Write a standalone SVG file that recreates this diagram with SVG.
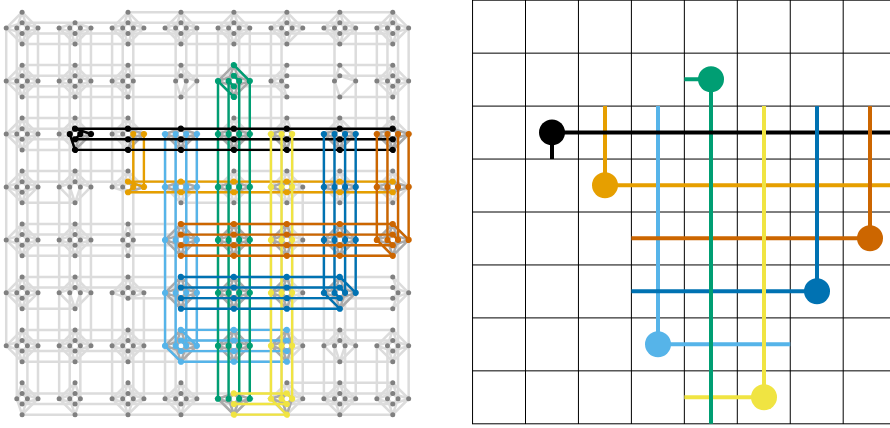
<svg xmlns="http://www.w3.org/2000/svg" width="890" height="428" viewBox="0 0 890 428">
<style>
.l{stroke:#dcdcdc;stroke-width:2.5;fill:none}
.d{stroke:#aaa;stroke-width:2.5;fill:none}
.c path{fill:none;stroke-width:2.4}
.n{fill:#808080}
.k{fill:#000;stroke:#000;stroke-width:1.2}
.o{fill:#E69F00;stroke:#E69F00;stroke-width:1.2}
.s{fill:#56B4E9;stroke:#56B4E9;stroke-width:1.2}
.g{fill:#009E73;stroke:#009E73;stroke-width:1.2}
.y{fill:#F0E442;stroke:#F0E442;stroke-width:1.2}
.b{fill:#0072B2;stroke:#0072B2;stroke-width:1.2}
.v{fill:#CC6600;stroke:#CC6600;stroke-width:1.2}
.pk{stroke:#000}.po{stroke:#E69F00}.ps{stroke:#56B4E9}.pg{stroke:#009E73}.py{stroke:#F0E442}.pb{stroke:#0072B2}.pv{stroke:#CC6600}
.r path{fill:none;stroke-width:4}
.grid{stroke:#000;stroke-width:1;fill:none}
</style>
<defs>
<circle id="na" cx="-15.9" r="2.5"/><circle id="nb" cx="-5.3" r="2.5"/><circle id="nc" cx="5.3" r="2.5"/><circle id="nd" cx="15.9" r="2.5"/>
<circle id="nA" cy="-15.9" r="2.5"/><circle id="nB" cy="-5.3" r="2.5"/><circle id="nC" cy="5.3" r="2.5"/><circle id="nD" cy="15.9" r="2.5"/>
<g id="V"><use href="#na"/><use href="#nb"/><use href="#nc"/><use href="#nd"/></g>
<g id="H"><use href="#nA"/><use href="#nB"/><use href="#nC"/><use href="#nD"/></g>
<g id="N"><use href="#V"/><use href="#H"/></g>
<g id="vabc"><use href="#na"/><use href="#nb"/><use href="#nc"/></g>
<g id="vbcd"><use href="#nb"/><use href="#nc"/><use href="#nd"/></g>
<g id="hBCD"><use href="#nB"/><use href="#nC"/><use href="#nD"/></g>
<g id="hABD"><use href="#nA"/><use href="#nB"/><use href="#nD"/></g>
<g id="hABC"><use href="#nA"/><use href="#nB"/><use href="#nC"/></g>
<path id="e" d="M0-15.9-15.9 0 0-5.3M0 5.3-15.9 0 0 15.9M0-15.9-5.3 0 0-5.3M0 5.3-5.3 0 0 15.9M0-15.9 5.3 0 0-5.3M0 5.3 5.3 0 0 15.9M0-15.9 15.9 0 0-5.3M0 5.3 15.9 0 0 15.9"/>
<path id="eabc" d="M0-15.9-15.9 0 0-5.3M0 5.3-15.9 0 0 15.9M0-15.9-5.3 0 0-5.3M0 5.3-5.3 0 0 15.9M0-15.9 5.3 0 0-5.3M0 5.3 5.3 0 0 15.9"/>
<path id="ebcd" d="M0-15.9-5.3 0 0-5.3M0 5.3-5.3 0 0 15.9M0-15.9 5.3 0 0-5.3M0 5.3 5.3 0 0 15.9M0-15.9 15.9 0 0-5.3M0 5.3 15.9 0 0 15.9"/>
<path id="eab" d="M0-15.9-15.9 0 0-5.3M0 5.3-15.9 0 0 15.9M0-15.9-5.3 0 0-5.3M0 5.3-5.3 0 0 15.9"/>
<path id="ecd" d="M0-15.9 5.3 0 0-5.3M0 5.3 5.3 0 0 15.9M0-15.9 15.9 0 0-5.3M0 5.3 15.9 0 0 15.9"/>
<path id="ebc" d="M0-15.9-5.3 0 0-5.3M0 5.3-5.3 0 0 15.9M0-15.9 5.3 0 0-5.3M0 5.3 5.3 0 0 15.9"/>
<path id="eBCD" d="M0-5.3-15.9 0 0 5.3M-15.9 0 0 15.9M0-5.3-5.3 0 0 5.3M-5.3 0 0 15.9M0-5.3 5.3 0 0 5.3M5.3 0 0 15.9M0-5.3 15.9 0 0 5.3M15.9 0 0 15.9"/>
<path id="eABD" d="M0-15.9-15.9 0 0-5.3M-15.9 0 0 15.9M0-15.9-5.3 0 0-5.3M-5.3 0 0 15.9M0-15.9 5.3 0 0-5.3M5.3 0 0 15.9M0-15.9 15.9 0 0-5.3M15.9 0 0 15.9"/>
<path id="eABC" d="M0-15.9-15.9 0 0-5.3M-15.9 0 0 5.3M0-15.9-5.3 0 0-5.3M-5.3 0 0 5.3M0-15.9 5.3 0 0-5.3M5.3 0 0 5.3M0-15.9 15.9 0 0-5.3M15.9 0 0 5.3"/>
<path id="ebcdABD" d="M0-15.9-5.3 0 0-5.3M-5.3 0 0 15.9M0-15.9 5.3 0 0-5.3M5.3 0 0 15.9M0-15.9 15.9 0 0-5.3M15.9 0 0 15.9"/>
<path id="ebdABD" d="M0-15.9-5.3 0 0-5.3M-5.3 0 0 15.9M0-15.9 15.9 0 0-5.3M15.9 0 0 15.9"/>
<path id="ecdBCD" d="M0-5.3 5.3 0 0 5.3M5.3 0 0 15.9M0-5.3 15.9 0 0 5.3M15.9 0 0 15.9"/>
<path id="eabcBCD" d="M0-5.3-15.9 0 0 5.3M-15.9 0 0 15.9M0-5.3-5.3 0 0 5.3M-5.3 0 0 15.9M0-5.3 5.3 0 0 5.3M5.3 0 0 15.9"/>
<path id="ebcdBCD" d="M0-5.3-5.3 0 0 5.3M-5.3 0 0 15.9M0-5.3 5.3 0 0 5.3M5.3 0 0 15.9M0-5.3 15.9 0 0 5.3M15.9 0 0 15.9"/>
<path id="eBC" d="M0-5.3-15.9 0 0 5.3M0-5.3-5.3 0 0 5.3M0-5.3 5.3 0 0 5.3M0-5.3 15.9 0 0 5.3"/>
<path id="eabcBC" d="M0-5.3-15.9 0 0 5.3M0-5.3-5.3 0 0 5.3M0-5.3 5.3 0 0 5.3"/>
<path id="ecdBC" d="M0-5.3 5.3 0 0 5.3M0-5.3 15.9 0 0 5.3"/>
</defs>
<g id="connectors">
<path class="l" d="M6.2 28.1V345.8M16.8 28.1V398.75M27.4 28.1V398.75M38 28.1V398.75M59.15 28.1V398.75M69.75 28.1V398.75M80.35 28.1V398.75M90.95 28.1V345.8M112.1 28.1V186.95M112.1 292.85V398.75M122.7 28.1V398.75M133.3 28.1V398.75M143.9 292.85V398.75M165.05 134V398.75M175.65 28.1V398.75M186.25 28.1V398.75M196.85 28.1V398.75M218 28.1V398.75M228.6 28.1V398.75M239.2 28.1V398.75M249.8 28.1V398.75M270.95 28.1V398.75M281.55 28.1V398.75M292.15 134V398.75M302.75 186.95V398.75M323.9 134V398.75M334.5 28.1V398.75M345.1 134V398.75M355.7 28.1V398.75M376.85 28.1V239.9M376.85 345.8V398.75M387.45 28.1V239.9M387.45 345.8V398.75M398.05 28.1V398.75M408.65 28.1V398.75"/>
<path class="l" d="M128 12.2H392.75M22.1 22.8H392.75M22.1 33.4H392.75M22.1 44H392.75M22.1 65.1H392.75M22.1 75.7H392.75M22.1 86.3H128M233.9 86.3H286.85M22.1 96.9H392.75M22.1 118.1H128M233.9 118.1H392.75M22.1 128.7H392.75M22.1 139.3H392.75M22.1 149.9H392.75M22.1 171.05H128M233.9 171.05H392.75M22.1 181.65H392.75M128 192.25H392.75M22.1 202.85H75.05M180.95 202.85H392.75M22.1 224H392.75M22.1 234.6H392.75M22.1 245.2H392.75M22.1 255.8H392.75M22.1 276.95H392.75M22.1 287.55H392.75M128 298.15H392.75M22.1 308.75H75.05M180.95 308.75H392.75M22.1 329.9H392.75M22.1 340.5H392.75M22.1 351.1H286.85M22.1 361.7H392.75M286.85 382.85H392.75M22.1 393.45H392.75M22.1 404.05H392.75M22.1 414.65H392.75"/>
<g class="l">
<use href="#e" x="22.1" y="28.1"/><use href="#eBCD" x="75.05" y="28.1"/><use href="#e" x="128" y="28.1"/><use href="#e" x="180.95" y="28.1"/><use href="#e" x="233.9" y="28.1"/><use href="#e" x="286.85" y="28.1"/><use href="#e" x="339.8" y="28.1"/><use href="#e" x="392.75" y="28.1"/>
<use href="#e" x="22.1" y="81.05"/><use href="#e" x="75.05" y="81.05"/><use href="#eabc" x="128" y="81.05"/><use href="#ebcdABD" x="180.95" y="81.05"/><use href="#eab" x="286.85" y="81.05"/><use href="#ebdABD" x="339.8" y="81.05"/><use href="#e" x="392.75" y="81.05"/>
<use href="#e" x="22.1" y="134"/><use href="#e" x="75.05" y="134"/><use href="#e" x="128" y="134"/><use href="#eBCD" x="180.95" y="134"/><use href="#e" x="233.9" y="134"/><use href="#eabc" x="286.85" y="134"/><use href="#e" x="339.8" y="134"/><use href="#e" x="392.75" y="134"/>
<use href="#e" x="22.1" y="186.95"/><use href="#eABD" x="75.05" y="186.95"/><use href="#eABC" x="128" y="186.95"/><use href="#eBCD" x="180.95" y="186.95"/><use href="#e" x="233.9" y="186.95"/><use href="#e" x="286.85" y="186.95"/><use href="#e" x="339.8" y="186.95"/><use href="#e" x="392.75" y="186.95"/>
<use href="#e" x="22.1" y="239.9"/><use href="#e" x="75.05" y="239.9"/><use href="#ebc" x="128" y="239.9"/><use href="#e" x="286.85" y="239.9"/>
<use href="#e" x="22.1" y="292.85"/><use href="#eABD" x="75.05" y="292.85"/><use href="#eABC" x="128" y="292.85"/><use href="#e" x="286.85" y="292.85"/><use href="#ecd" x="392.75" y="292.85"/>
<use href="#e" x="22.1" y="345.8"/><use href="#e" x="75.05" y="345.8"/><use href="#e" x="128" y="345.8"/><use href="#e" x="286.85" y="345.8"/><use href="#eABD" x="339.8" y="345.8"/><use href="#e" x="392.75" y="345.8"/>
<use href="#ebcd" x="22.1" y="398.75"/><use href="#eabc" x="75.05" y="398.75"/><use href="#e" x="128" y="398.75"/><use href="#e" x="180.95" y="398.75"/><use href="#eBCD" x="233.9" y="398.75"/><use href="#e" x="286.85" y="398.75"/><use href="#e" x="339.8" y="398.75"/><use href="#e" x="392.75" y="398.75"/>
</g>
<g class="d">
<use href="#e" x="233.9" y="81.05"/>
<use href="#ebcdBCD" x="75.05" y="134"/><use href="#ecdBCD" x="128" y="134"/><use href="#eBCD" x="180.95" y="134"/><use href="#eBCD" x="233.9" y="134"/><use href="#eabcBCD" x="286.85" y="134"/><use href="#eBCD" x="339.8" y="134"/><use href="#eBCD" x="392.75" y="134"/>
<use href="#ecdBC" x="128" y="186.95"/><use href="#eBC" x="180.95" y="186.95"/><use href="#eBC" x="233.9" y="186.95"/><use href="#eabcBC" x="286.85" y="186.95"/><use href="#eBC" x="339.8" y="186.95"/><use href="#eBC" x="392.75" y="186.95"/>
<use href="#e" x="180.95" y="239.9"/><use href="#e" x="233.9" y="239.9"/><use href="#eabc" x="286.85" y="239.9"/><use href="#e" x="339.8" y="239.9"/><use href="#e" x="392.75" y="239.9"/>
<use href="#e" x="180.95" y="292.85"/><use href="#e" x="233.9" y="292.85"/><use href="#eabc" x="286.85" y="292.85"/><use href="#e" x="339.8" y="292.85"/>
<use href="#e" x="180.95" y="345.8"/><use href="#e" x="233.9" y="345.8"/><use href="#eabc" x="286.85" y="345.8"/>
<use href="#eBCD" x="233.9" y="398.75"/><use href="#eabcBCD" x="286.85" y="398.75"/>
</g>
<g class="c">
<path class="po" d="M133.3 134V186.95M143.9 134V186.95M128 181.65H392.75M128 192.25H392.75M133.3 186.95 128 192.25M143.9 186.95 128 181.65"/>
<path class="ps" d="M165.05 134V345.8M175.65 134V345.8M186.25 134V345.8M196.85 134V345.8M180.95 329.9H286.85M180.95 340.5H286.85M180.95 351.1H286.85M180.95 361.7H286.85M165.05 345.8 180.95 361.7M175.65 345.8 180.95 351.1M186.25 345.8 180.95 340.5M196.85 345.8 180.95 329.9"/>
<path class="pg" d="M218 81.05V398.75M228.6 81.05V398.75M239.2 81.05V398.75M249.8 81.05V398.75M218 81.05 233.9 96.9M228.6 81.05 233.9 86.3M239.2 81.05 233.9 75.7M249.8 81.05 233.9 65.1"/>
<path class="pk" d="M75.05 128.7H392.75M75.05 139.3H392.75M75.05 149.9H392.75M69.75 134 75.05 149.9M80.35 134 75.05 139.3M90.95 134 75.05 128.7"/>
<path class="py" d="M270.95 134V398.75M281.55 134V398.75M292.15 134V398.75M233.9 393.45H286.85M233.9 404.05H286.85M233.9 414.65H286.85M270.95 398.75 286.85 414.65M281.55 398.75 286.85 404.05M292.15 398.75 286.85 393.45"/>
<path class="pb" d="M323.9 134V292.85M334.5 134V292.85M345.1 134V292.85M355.7 134V292.85M180.95 276.95H339.8M180.95 287.55H339.8M180.95 298.15H339.8M180.95 308.75H339.8M323.9 292.85 339.8 308.75M334.5 292.85 339.8 298.15M345.1 292.85 339.8 287.55M355.7 292.85 339.8 276.95"/>
<path class="pv" d="M376.85 134V239.9M387.45 134V239.9M398.05 134V239.9M408.65 134V239.9M180.95 224H392.75M180.95 234.6H392.75M180.95 245.2H392.75M180.95 255.8H392.75M376.85 239.9 392.75 255.8M387.45 239.9 392.75 245.2M398.05 239.9 392.75 234.6M408.65 239.9 392.75 224"/>
</g>
</g>
<g id="nodes" class="n">
<g id="n0-0" transform="translate(22.1 28.1)"><use href="#N"/></g>
<g id="n0-1" transform="translate(75.05 28.1)"><use href="#V"/><use href="#hBCD"/></g>
<g id="n0-2" transform="translate(128 28.1)"><use href="#N"/></g>
<g id="n0-3" transform="translate(180.95 28.1)"><use href="#N"/></g>
<g id="n0-4" transform="translate(233.9 28.1)"><use href="#N"/></g>
<g id="n0-5" transform="translate(286.85 28.1)"><use href="#N"/></g>
<g id="n0-6" transform="translate(339.8 28.1)"><use href="#N"/></g>
<g id="n0-7" transform="translate(392.75 28.1)"><use href="#N"/></g>
<g id="n1-0" transform="translate(22.1 81.05)"><use href="#N"/></g>
<g id="n1-1" transform="translate(75.05 81.05)"><use href="#N"/></g>
<g id="n1-2" transform="translate(128 81.05)"><use href="#vabc"/><use href="#H"/></g>
<g id="n1-3" transform="translate(180.95 81.05)"><use href="#vbcd"/><use href="#hABD"/></g>
<g id="n1-4" transform="translate(233.9 81.05)"><use href="#N" class="g"/></g>
<g id="n1-5" transform="translate(286.85 81.05)"><use href="#na"/><use href="#nb"/><use href="#H"/></g>
<g id="n1-6" transform="translate(339.8 81.05)"><use href="#nb"/><use href="#nd"/><use href="#hABD"/></g>
<g id="n1-7" transform="translate(392.75 81.05)"><use href="#N"/></g>
<g id="n2-0" transform="translate(22.1 134)"><use href="#N"/></g>
<g id="n2-1" transform="translate(75.05 134)"><use href="#na"/><use href="#nA"/><use href="#vbcd" class="k"/><use href="#hBCD" class="k"/></g>
<g id="n2-2" transform="translate(128 134)"><use href="#na"/><use href="#nb"/><use href="#nA"/><use href="#hBCD" class="k"/><use href="#nc" class="o"/><use href="#nd" class="o"/></g>
<g id="n2-3" transform="translate(180.95 134)"><use href="#hBCD" class="k"/><use href="#V" class="s"/></g>
<g id="n2-4" transform="translate(233.9 134)"><use href="#nA"/><use href="#hBCD" class="k"/><use href="#V" class="g"/></g>
<g id="n2-5" transform="translate(286.85 134)"><use href="#nA"/><use href="#hBCD" class="k"/><use href="#vabc" class="y"/></g>
<g id="n2-6" transform="translate(339.8 134)"><use href="#nA"/><use href="#hBCD" class="k"/><use href="#V" class="b"/></g>
<g id="n2-7" transform="translate(392.75 134)"><use href="#nA"/><use href="#hBCD" class="k"/><use href="#V" class="v"/></g>
<g id="n3-0" transform="translate(22.1 186.95)"><use href="#N"/></g>
<g id="n3-1" transform="translate(75.05 186.95)"><use href="#V"/><use href="#hABD"/></g>
<g id="n3-2" transform="translate(128 186.95)"><use href="#na"/><use href="#nb"/><use href="#nA"/><use href="#nB" class="o"/><use href="#nC" class="o"/><use href="#nc" class="o"/><use href="#nd" class="o"/></g>
<g id="n3-3" transform="translate(180.95 186.95)"><use href="#nD"/><use href="#nB" class="o"/><use href="#nC" class="o"/><use href="#V" class="s"/></g>
<g id="n3-4" transform="translate(233.9 186.95)"><use href="#nA"/><use href="#nD"/><use href="#nB" class="o"/><use href="#nC" class="o"/><use href="#V" class="g"/></g>
<g id="n3-5" transform="translate(286.85 186.95)"><use href="#nA"/><use href="#nD"/><use href="#nd"/><use href="#nB" class="o"/><use href="#nC" class="o"/><use href="#vabc" class="y"/></g>
<g id="n3-6" transform="translate(339.8 186.95)"><use href="#nA"/><use href="#nD"/><use href="#nB" class="o"/><use href="#nC" class="o"/><use href="#V" class="b"/></g>
<g id="n3-7" transform="translate(392.75 186.95)"><use href="#nA"/><use href="#nD"/><use href="#nB" class="o"/><use href="#nC" class="o"/><use href="#V" class="v"/></g>
<g id="n4-0" transform="translate(22.1 239.9)"><use href="#N"/></g>
<g id="n4-1" transform="translate(75.05 239.9)"><use href="#N"/></g>
<g id="n4-2" transform="translate(128 239.9)"><use href="#nb"/><use href="#nc"/><use href="#H"/></g>
<g id="n4-3" transform="translate(180.95 239.9)"><use href="#V" class="s"/><use href="#H" class="v"/></g>
<g id="n4-4" transform="translate(233.9 239.9)"><use href="#V" class="g"/><use href="#H" class="v"/></g>
<g id="n4-5" transform="translate(286.85 239.9)"><use href="#nd"/><use href="#vabc" class="y"/><use href="#H" class="v"/></g>
<g id="n4-6" transform="translate(339.8 239.9)"><use href="#V" class="b"/><use href="#H" class="v"/></g>
<g id="n4-7" transform="translate(392.75 239.9)"><use href="#N" class="v"/></g>
<g id="n5-0" transform="translate(22.1 292.85)"><use href="#N"/></g>
<g id="n5-1" transform="translate(75.05 292.85)"><use href="#V"/><use href="#hABD"/></g>
<g id="n5-2" transform="translate(128 292.85)"><use href="#V"/><use href="#hABC"/></g>
<g id="n5-3" transform="translate(180.95 292.85)"><use href="#V" class="s"/><use href="#H" class="b"/></g>
<g id="n5-4" transform="translate(233.9 292.85)"><use href="#V" class="g"/><use href="#H" class="b"/></g>
<g id="n5-5" transform="translate(286.85 292.85)"><use href="#nd"/><use href="#vabc" class="y"/><use href="#H" class="b"/></g>
<g id="n5-6" transform="translate(339.8 292.85)"><use href="#N" class="b"/></g>
<g id="n5-7" transform="translate(392.75 292.85)"><use href="#nc"/><use href="#nd"/><use href="#H"/></g>
<g id="n6-0" transform="translate(22.1 345.8)"><use href="#N"/></g>
<g id="n6-1" transform="translate(75.05 345.8)"><use href="#N"/></g>
<g id="n6-2" transform="translate(128 345.8)"><use href="#N"/></g>
<g id="n6-3" transform="translate(180.95 345.8)"><use href="#N" class="s"/></g>
<g id="n6-4" transform="translate(233.9 345.8)"><use href="#V" class="g"/><use href="#H" class="s"/></g>
<g id="n6-5" transform="translate(286.85 345.8)"><use href="#nd"/><use href="#vabc" class="y"/><use href="#H" class="s"/></g>
<g id="n6-6" transform="translate(339.8 345.8)"><use href="#V"/><use href="#hABD"/></g>
<g id="n6-7" transform="translate(392.75 345.8)"><use href="#N"/></g>
<g id="n7-0" transform="translate(22.1 398.75)"><use href="#vbcd"/><use href="#H"/></g>
<g id="n7-1" transform="translate(75.05 398.75)"><use href="#vabc"/><use href="#H"/></g>
<g id="n7-2" transform="translate(128 398.75)"><use href="#N"/></g>
<g id="n7-3" transform="translate(180.95 398.75)"><use href="#N"/></g>
<g id="n7-4" transform="translate(233.9 398.75)"><use href="#V" class="g"/><use href="#hBCD" class="y"/></g>
<g id="n7-5" transform="translate(286.85 398.75)"><use href="#nd"/><use href="#nA"/><use href="#vabc" class="y"/><use href="#hBCD" class="y"/></g>
<g id="n7-6" transform="translate(339.8 398.75)"><use href="#N"/></g>
<g id="n7-7" transform="translate(392.75 398.75)"><use href="#N"/></g>
</g>
<g id="grid" class="grid">
<path d="M472.55 0V424M525.5 0V424M578.45 0V424M631.4 0V424M684.35 0V424M737.3 0V424M790.25 0V424M843.2 0V424M472 0.2H890M472 53.15H890M472 106.1H890M472 159.05H890M472 212H890M472 264.95H890M472 317.9H890M472 370.85H890M472 423.8H890"/>
</g>
<g id="right-connectors" class="r">
<path class="po" d="M605 106.1V185.3H890"/>
<path class="ps" d="M658 106.1V344.3H790.25"/>
<path class="pv" d="M631.4 238.3H870"/>
<path class="pb" d="M631.4 291.3H817"/>
<path class="py" d="M684.35 397.2H764"/>
<path class="pg" d="M684.35 79.3H711V423.8"/>
<path class="pk" d="M552 158.9V132.4H890"/>
<path class="py" d="M764 397.2V106.1"/>
<path class="pb" d="M817 291.3V106.1"/>
<path class="pv" d="M870 238.3V106.1"/>
</g>
<g id="right-nodes">
<circle id="black" cx="552" cy="132.4" r="13" fill="#000"/>
<circle id="orange" cx="605" cy="185.3" r="13" fill="#E69F00"/>
<circle id="skyblue" cx="658" cy="344.3" r="13" fill="#56B4E9"/>
<circle id="green" cx="711" cy="79.3" r="13" fill="#009E73"/>
<circle id="yellow" cx="764" cy="397.2" r="13" fill="#F0E442"/>
<circle id="blue" cx="817" cy="291.3" r="13" fill="#0072B2"/>
<circle id="vermillion" cx="870" cy="238.3" r="13" fill="#CC6600"/>
</g>
</svg>
